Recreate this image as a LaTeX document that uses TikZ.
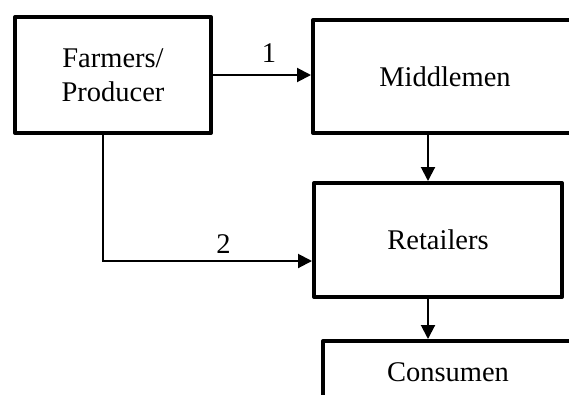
\documentclass[tikz,border=0pt]{standalone}
\usepackage{fontspec}
\setmainfont{Liberation Serif}
\usetikzlibrary{arrows.meta}
\begin{document}
\begin{tikzpicture}[x=1pt,y=-1pt,
  box/.style={draw,line width=4pt,line join=round,inner sep=0pt,align=center,font=\fontsize{28.5}{34}\selectfont},
  conn/.style={line width=2pt,-{Triangle[length=14pt,width=14pt]}},
  plain/.style={line width=2pt},
  lbl/.style={inner sep=0pt,font=\fontsize{28.5}{34}\selectfont}]
\useasboundingbox (0,0) rectangle (569,394);
\clip (0,0) rectangle (569,394);
\node[box,minimum width=196pt,minimum height=116pt] (farm) at (113,75) {Farmers/\\Producer};
\node[box,minimum width=264pt,minimum height=113pt] (mid) at (445,76.5) {Middlemen};
\node[box,minimum width=248pt,minimum height=114pt] (ret) at (438,240) {Retailers};
\node[box,minimum width=250pt,minimum height=62pt] (con) at (448,372) {Consumen};
\coordinate (j) at (103,261);
\coordinate (a) at (428,0);
\draw[conn] (farm.east) -- (farm.east -| mid.west);
\draw[conn] (farm.south -| j) -- (j) -- (j -| ret.west);
\draw[conn] (mid.south -| a) -- (ret.north -| a);
\draw[conn] (ret.south -| a) -- (con.north -| a);
\node[lbl] (l1) at (269,53) {1};
\node[lbl] (l2) at (223.5,244) {2};
\end{tikzpicture}
\end{document}
